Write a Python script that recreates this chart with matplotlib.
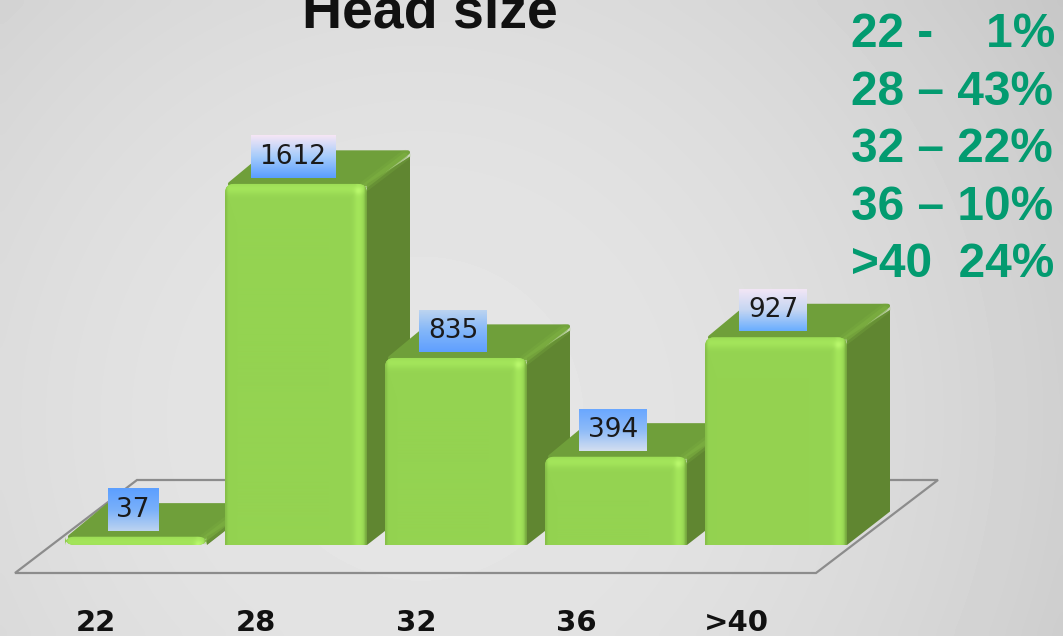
import matplotlib
matplotlib.use('Agg')
import matplotlib.pyplot as plt
import numpy as np
from matplotlib.patches import Polygon, FancyBboxPatch
from matplotlib.colors import LinearSegmentedColormap, to_rgb

# data
categories = ['22', '28', '32', '36', '>40']
counts = [37, 1612, 835, 394, 927]
share_lines = ['22 -    1%', '28 – 43%', '32 – 22%', '36 – 10%', '>40  24%']

# label box gradients, top to bottom
label_stops = [
    ['#5c9fff', '#79b0fa', '#bcd3f0'],
    ['#f6e6f5', '#a5ccfb', '#5a9eff'],
    ['#bcd4f0', '#82b6f9', '#5f9fff'],
    ['#6aa7ff', '#8dbbf8', '#d3def0'],
    ['#f2e6f6', '#c5d6f2', '#69adff'],
]

# one data unit in pixels: 160 px per category, 0.224 px per count
sx = 1 / 160
sy = 1 / 0.224
dep_x = 43 * sx
dep_y = 33.5 * sy
bar_w = 142 * sx


def front_shade(w, h):
    # soft bevel of the front face, one array cell per pixel
    img = np.ones((h, w, 3)) * to_rgb('#94d351')
    col = np.arange(w)[None, :]
    row = np.arange(h)[:, None]
    top = np.exp(-((row - 5) / 6.0) ** 2) * np.ones((h, w))
    right = np.exp(-((col - (w - 9)) / 5.0) ** 2) * np.ones((h, w))
    spot = np.exp(-((row - 7) / 4.0) ** 2 - ((col - (w - 9)) / 4.0) ** 2)
    edge = np.exp(-(col / 2.0) ** 2) * 0.4 + np.exp(-((w - 1 - col) / 2.0) ** 2) * 0.8
    for mask, c in [(np.maximum(top, right) * 0.85, '#a6e85c'), (spot, '#b9f86c'), (edge * np.ones((h, w)), '#6f9f3a')]:
        img = img * (1 - mask[..., None]) + np.array(to_rgb(c)) * mask[..., None]
    return img


fig = plt.figure(figsize=(10.63, 6.36), dpi=100)
ax = fig.add_axes([0, 0, 1, 1])
ax.axis('off')
x_lim = (-136 * sx, (1063 - 136) * sx)
y_lim = (-91 * sy, 545 * sy)

# background
py, px = np.mgrid[0:636:80j, 0:1063:134j]
bg = 0.9 - 0.105 * (np.hypot(px - 420, py - 420) / 720) ** 2
ax.imshow(bg, cmap='gray', vmin=0, vmax=1, extent=[*x_lim, *y_lim],
          aspect='auto', interpolation='bicubic', zorder=0)

xs = np.arange(len(categories))

# floor
fl, fr = xs[0] - 121 * sx, xs[-1] + 40 * sx
fb = -28 * sy
ax.add_patch(Polygon([(fl, fb), (fr, fb), (fr + 122 * sx, fb + 93 * sy), (fl + 122 * sx, fb + 93 * sy)],
                     closed=True, fill=False, ec='#8c8c8c', lw=1.6, zorder=1))

for i, (x, v) in enumerate(zip(xs, counts)):
    z = 2 + i
    l, r_ = x - bar_w / 2, x + bar_w / 2
    # top and side
    ax.add_patch(Polygon([(l + 5 * sx, v), (l + dep_x, v + dep_y - 2 * sy), (r_ + dep_x - 2 * sx, v + dep_y - 2 * sy), (r_, v)],
                         closed=True, fc='#6f9f3a', ec='#6f9f3a', lw=3, joinstyle='round', zorder=z))
    ax.add_patch(Polygon([(r_, 0), (r_ + dep_x, dep_y), (r_ + dep_x, v + dep_y - 6 * sy), (r_, v)],
                         closed=True, fc='#608631', ec='none', zorder=z))
    for lw, a in [(8, 0.25), (4, 0.5)]:
        ax.plot([r_ - 2 * sx, r_ + dep_x - 5 * sx], [v - 2 * sy, v + dep_y - 5 * sy],
                color='#7fb342', lw=lw, alpha=a, solid_capstyle='round', zorder=z)
    # front face, rounded at the top
    low = 0 if v < 100 else -12 * sy
    shape = FancyBboxPatch((l, low), bar_w, v - low, boxstyle=f'round,pad=0,rounding_size={9 * sx}',
                           mutation_aspect=sy / sx, fc='none', ec='none', zorder=z)
    ax.add_patch(shape)
    bar = ax.bar(x, v, width=bar_w, color='#94d351', zorder=z)[0]
    bar.set_clip_path(shape)
    im = ax.imshow(front_shade(142, max(int(round(v / sy)), 2)), extent=[l, r_, 0, v], aspect='auto',
                   interpolation='bilinear', zorder=z)
    im.set_clip_path(shape)
    # value label with gradient box
    cm = LinearSegmentedColormap.from_list(f'lab{i}', label_stops[i])
    cx = x - 3 * sx
    bw = (len(str(v)) * 16.8 + 17) * sx
    y0 = v + 6 * sy
    y1 = y0 + 42 * sy
    ax.imshow(np.linspace(0, 1, 64)[:, None], cmap=cm, aspect='auto',
              extent=[cx - bw / 2, cx + bw / 2, y0, y1], zorder=10)
    ax.text(cx, (y0 + y1) / 2, str(v), ha='center', va='center', fontsize=19,
            color='#1a1a1a', zorder=11)
    # category label
    ax.text(x - 40 * sx, -86 * sy, categories[i], ha='center', va='baseline', fontsize=21,
            fontweight='bold', color='#111111', zorder=11)

ax.set_xlim(*x_lim)
ax.set_ylim(*y_lim)

fig.text(430 / 1063, 1 - 27 / 636, 'Head size', ha='center', va='baseline', fontsize=40,
         fontweight='bold', family='Liberation Sans', color='#111111')

for k, line in enumerate(share_lines):
    fig.text(851 / 1063, 1 - (47 + 57.6 * k) / 636, line, ha='left', va='baseline', fontsize=34.4,
             fontweight='bold', family='Liberation Sans', color='#039b70')

fig.savefig('out.png', dpi=100)
